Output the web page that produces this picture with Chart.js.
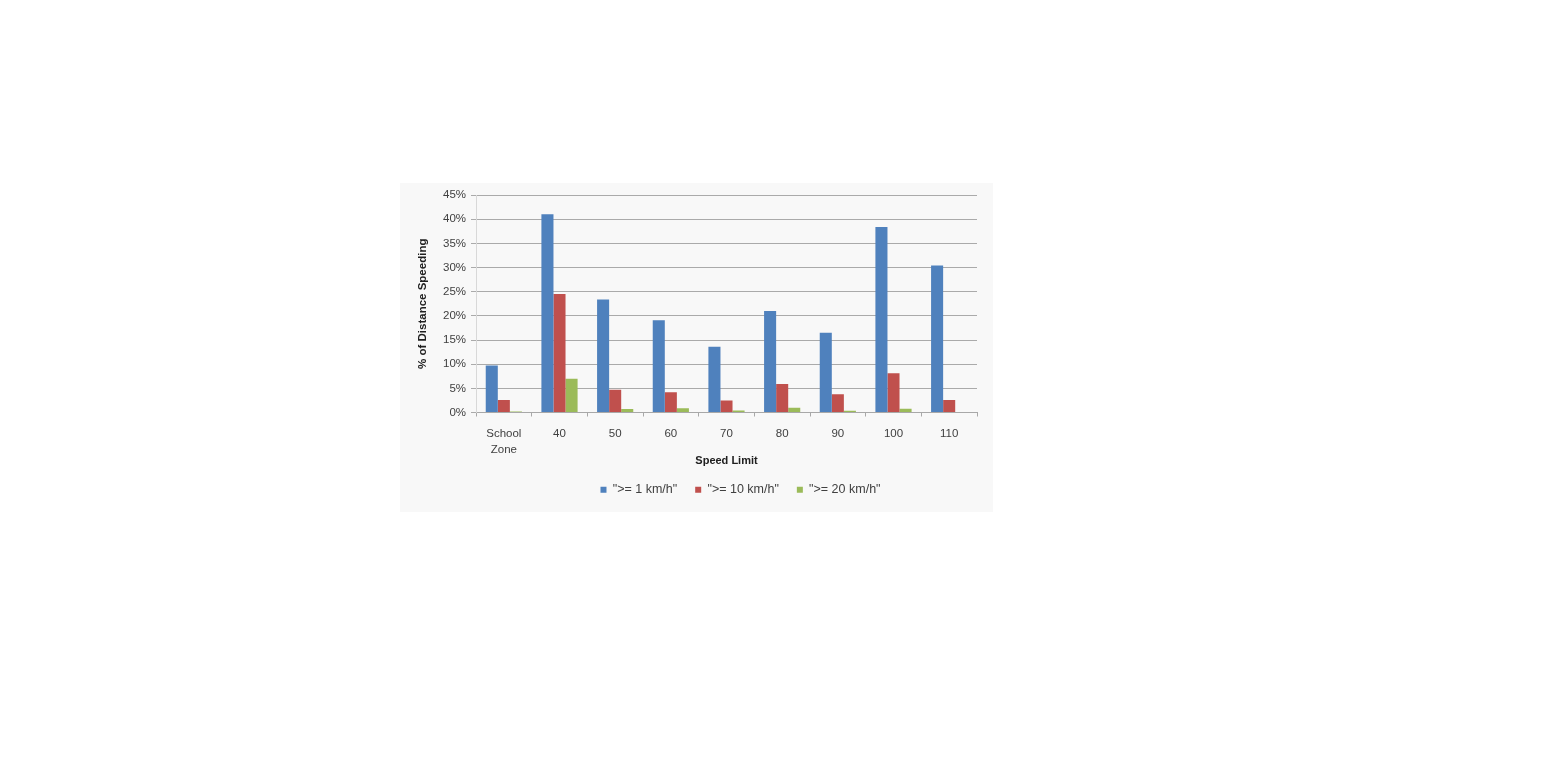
<!DOCTYPE html>
<html>
<head>
<meta charset="utf-8">
<script src="https://cdn.jsdelivr.net/npm/chart.js@4.4.1/dist/chart.umd.min.js"></script>
<style>
  html, body { margin: 0; padding: 0; background: #fff; }
  body { width: 1568px; height: 766px; position: relative; overflow: hidden; }
  #box { position: absolute; left: 400px; top: 183px; width: 593px; height: 329px; background: #f8f8f8; }
  #box canvas { display: block; }
</style>
</head>
<body>
<div id="box"><canvas id="speedChart" width="593" height="329"></canvas></div>
<script>
// speed limit categories
const categories = [['School', 'Zone'], '40', '50', '60', '70', '80', '90', '100', '110'];
const seriesNames = ['">= 1 km/h"', '">= 10 km/h"', '">= 20 km/h"'];
const over1  = [9.7, 41.0, 23.4, 19.1, 13.6, 21.0, 16.5, 38.4, 30.4];
const over10 = [2.6, 24.5, 4.7, 4.2, 2.5, 5.9, 3.8, 8.1, 2.6];
const over20 = [0.2, 7.0, 0.7, 0.9, 0.4, 1.0, 0.35, 0.8, 0];
const yTicks = [0, 5, 10, 15, 20, 25, 30, 35, 40, 45];

const colors = ['#4f81bd', '#c0504d', '#9bbb59'];
const FONT = 'Liberation Sans, Arial, sans-serif';
const TXT = '#404040';

// legend in the original sits a bit right of centre
const shiftLegend = {
  id: 'shiftLegend',
  afterLayout(chart) {
    chart.legend.left += 44;
    chart.legend.right += 44;
  }
};

new Chart(document.getElementById('speedChart'), {
  type: 'bar',
  data: {
    labels: categories,
    datasets: [over1, over10, over20].map((d, i) => ({
      label: seriesNames[i],
      data: d,
      backgroundColor: colors[i],
      borderWidth: 0,
      barPercentage: 1.0,
      categoryPercentage: 0.65,
    }))
  },
  options: {
    responsive: false,
    animation: false,
    layout: { padding: { left: 16, right: 16, top: 12, bottom: 6 } },
    plugins: {
      legend: {
        position: 'bottom',
        labels: { boxWidth: 6, boxHeight: 6, padding: 18, color: TXT, font: { family: FONT, size: 12.5 } }
      },
      tooltip: { enabled: false }
    },
    scales: {
      x: {
        grid: { display: true, offset: true, drawOnChartArea: false, tickLength: 4, color: '#a8a8a8' },
        border: { color: '#a8a8a8' },
        ticks: { color: TXT, padding: 9, maxRotation: 0, font: { family: FONT, size: 11.5, lineHeight: 1.4 } },
        title: { display: true, text: 'Speed Limit', color: '#202020', padding: { top: 0, bottom: 0 }, font: { family: FONT, size: 11, weight: 'bold', lineHeight: 0.8 } },
        afterFit: s => { s.height = 53; }
      },
      y: {
        min: 0, max: 45,
        afterBuildTicks: s => { s.ticks = yTicks.map(v => ({ value: v })); },
        grid: { color: '#aaaaaa', tickLength: 5 },
        border: { color: '#d8d8d8' },
        ticks: { color: TXT, padding: 5, callback: v => v + '%', font: { family: FONT, size: 11.5 } },
        title: { display: true, text: '% of Distance Speeding', color: '#202020', padding: { top: 0, bottom: 4 }, font: { family: FONT, size: 11.5, weight: 'bold' } },
        afterFit: s => { s.width = 60; }
      }
    }
  },
  plugins: [shiftLegend]
});
</script>
</body>
</html>
